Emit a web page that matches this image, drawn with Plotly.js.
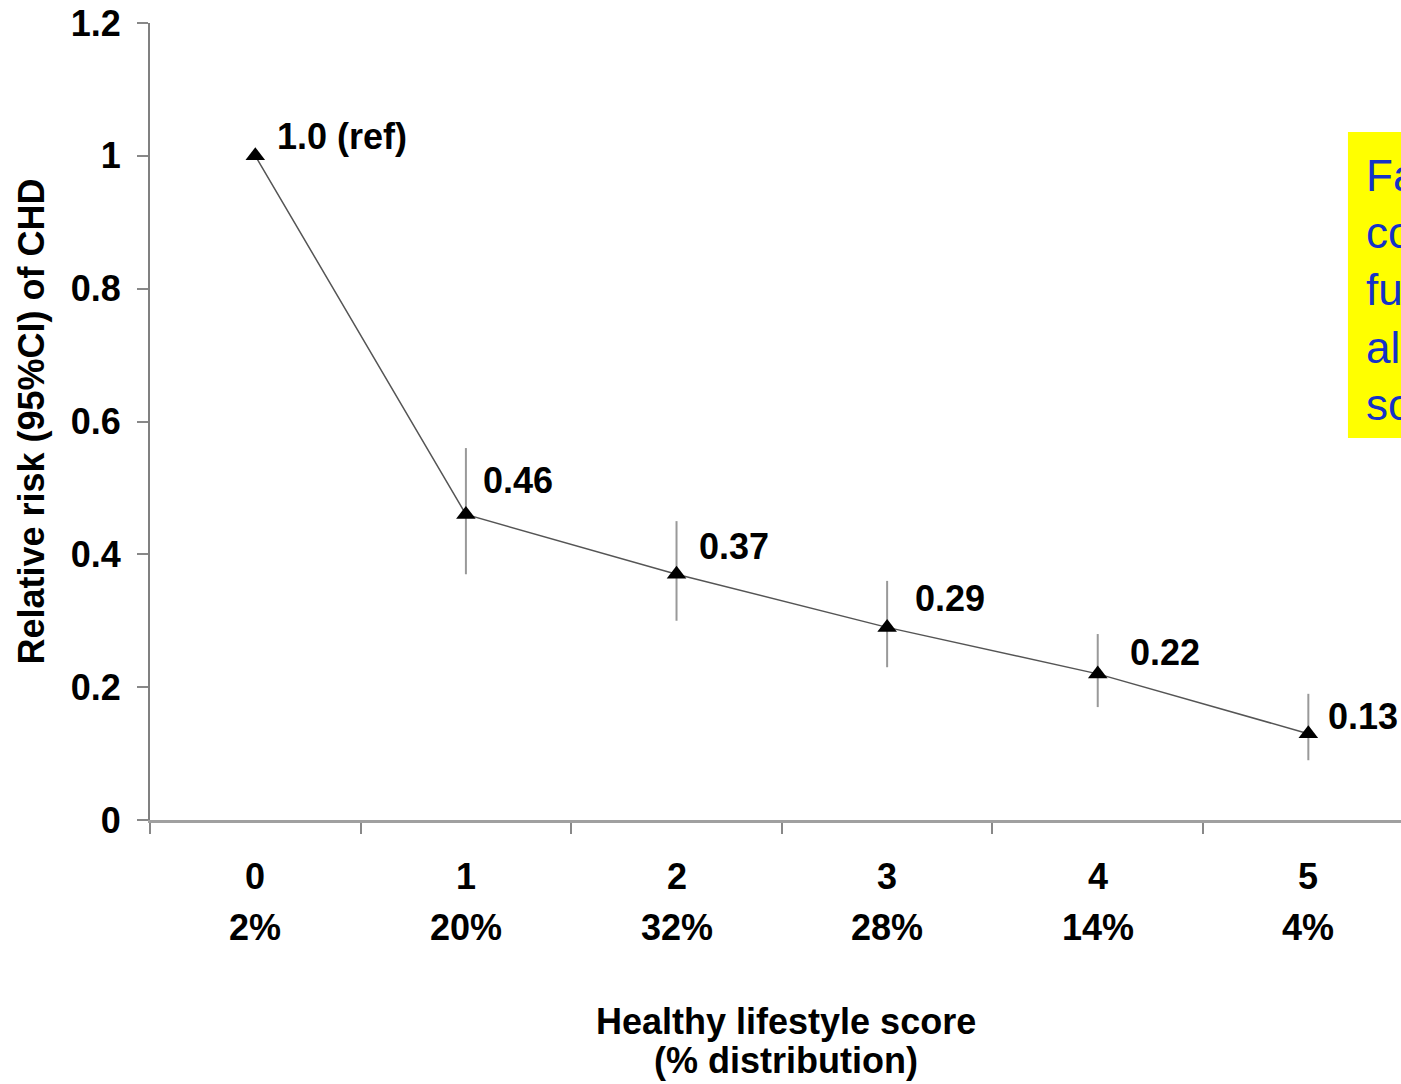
<!DOCTYPE html>
<html>
<head>
<meta charset="utf-8">
<script src="https://cdn.plot.ly/plotly-3.0.1.min.js"></script>
<style>html,body{margin:0;padding:0;background:#fff;overflow:hidden;}</style>
</head>
<body>
<div id="chart" style="width:1401px;height:1084px;"></div>
<script>
// ---- data ----
const scores = [0, 1, 2, 3, 4, 5];
const scoreLabels = ["0", "1", "2", "3", "4", "5"];
const distribution = ["2%", "20%", "32%", "28%", "14%", "4%"];
const relativeRisk = [1.0, 0.46, 0.37, 0.29, 0.22, 0.13];
const ciUpper = [1.0, 0.56, 0.45, 0.36, 0.28, 0.19];
const ciLower = [1.0, 0.37, 0.30, 0.23, 0.17, 0.09];
const valueLabels = ["1.0 (ref)", "0.46", "0.37", "0.29", "0.22", "0.13"];
const yTicks = [0, 0.2, 0.4, 0.6, 0.8, 1, 1.2];
const xTitleLines = ["Healthy lifestyle score", "(% distribution)"];
const boxLines = ["Fa", "co", "fu", "al", "so"];

// ---- style ----
const FONT = "Liberation Sans, Arial, Helvetica, sans-serif";
const FS = 36;
const labelShiftX = [20, 15, 20, 26, 30, 18];
const labelShiftY = [19, 34, 28, 29, 21, 17];
const xTitleY = [-0.2522, -0.3012];

const trace = {
  x: scores,
  y: relativeRisk,
  type: "scatter",
  mode: "lines+markers",
  line: {color: "#555555", width: 1.5},
  marker: {symbol: "triangle-up", size: 17, color: "#000000"},
  error_y: {
    type: "data",
    symmetric: false,
    array: ciUpper.map((u, i) => u - relativeRisk[i]),
    arrayminus: ciLower.map((l, i) => relativeRisk[i] - l),
    color: "#999999",
    thickness: 2,
    width: 0
  },
  hoverinfo: "skip",
  cliponaxis: false
};

const boldFont = {family: FONT, size: FS, color: "#000", weight: "bold"};
const annotations = [];
scores.forEach((s, i) => {
  annotations.push({
    x: s, y: relativeRisk[i], xref: "x", yref: "y",
    text: valueLabels[i], showarrow: false,
    xanchor: "left", yanchor: "middle",
    xshift: labelShiftX[i], yshift: labelShiftY[i],
    font: boldFont
  });
  annotations.push({
    x: s, y: -0.0703, xref: "x", yref: "paper",
    text: scoreLabels[i], showarrow: false,
    xanchor: "center", yanchor: "middle",
    font: boldFont
  });
  annotations.push({
    x: s, y: -0.1343, xref: "x", yref: "paper",
    text: distribution[i], showarrow: false,
    xanchor: "center", yanchor: "middle",
    font: boldFont
  });
});
xTitleLines.forEach((t, i) => {
  annotations.push({
    x: 0.5084, y: xTitleY[i], xref: "paper", yref: "paper",
    text: t, showarrow: false,
    xanchor: "center", yanchor: "middle",
    font: boldFont
  });
});
annotations.push({
  x: 0.9704, y: 0.665, xref: "paper", yref: "paper",
  text: boxLines.join("<br>"), showarrow: false, align: "left",
  xanchor: "left", yanchor: "middle",
  font: {family: FONT, size: 44, color: "#1432c8"}
});

const layout = {
  width: 1401, height: 1084,
  margin: {l: 150, r: 0, t: 23, b: 264},
  paper_bgcolor: "#fff", plot_bgcolor: "#fff",
  showlegend: false,
  font: {family: FONT, color: "#000"},
  xaxis: {
    range: [-0.5, 5.44],
    tickvals: [-0.5, 0.5, 1.5, 2.5, 3.5, 4.5],
    ticktext: ["", "", "", "", "", ""],
    ticks: "outside", ticklen: 11, tickwidth: 2, tickcolor: "#888",
    showline: true, linecolor: "#a0a0a0", linewidth: 3,
    showgrid: false, zeroline: false, fixedrange: true
  },
  yaxis: {
    range: [0, 1.2],
    tickvals: yTicks,
    ticks: "outside", ticklen: 11, tickwidth: 2, tickcolor: "#888",
    ticklabelstandoff: 9,
    showline: true, linecolor: "#808080", linewidth: 2,
    showgrid: false, zeroline: false, fixedrange: true,
    tickfont: boldFont,
    title: {text: "Relative risk (95%CI) of CHD", standoff: 15,
            font: boldFont}
  },
  shapes: [{
    type: "rect", xref: "paper", yref: "paper",
    x0: 0.9576, x1: 1.2, y0: 0.4793, y1: 0.8632,
    fillcolor: "#ffff00", line: {width: 0}, layer: "below"
  }],
  annotations: annotations
};

Plotly.newPlot("chart", [trace], layout, {displayModeBar: false, staticPlot: true});
</script>
</body>
</html>
